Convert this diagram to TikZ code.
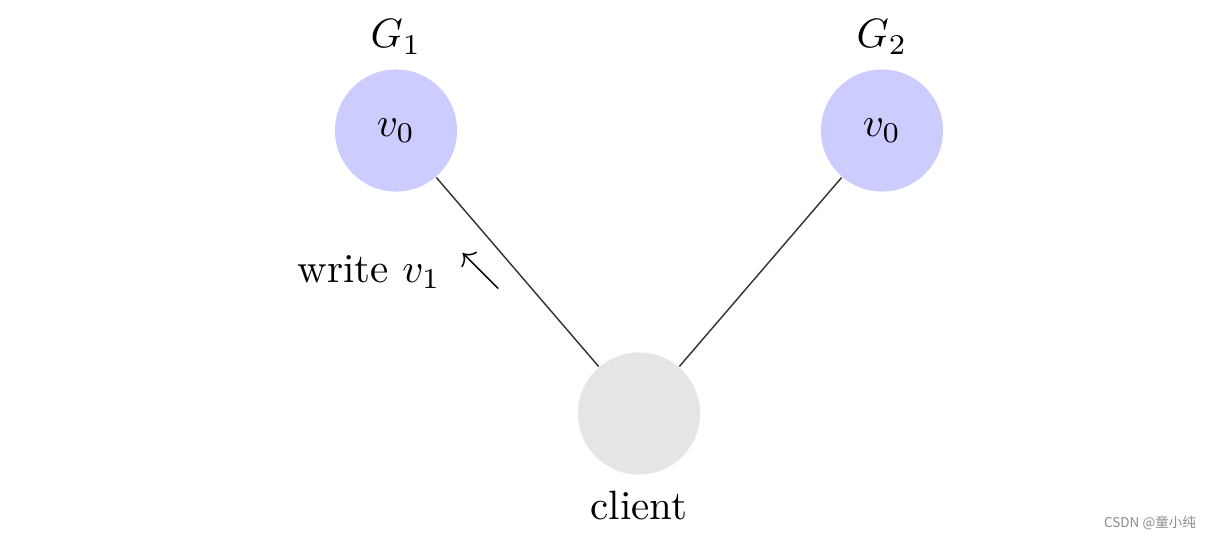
\documentclass[tikz,border=0pt]{standalone}
\usepackage{fontspec}
\newfontfamily\cjkfont{Noto Sans CJK SC}
\begin{document}
\begin{tikzpicture}[x=0.244pt,y=-0.244pt,
  server/.style={circle,fill=blue!20,minimum size=29.8pt,inner sep=0pt},
  clientnode/.style={circle,fill=black!10,minimum size=29.8pt,inner sep=0pt},
  link/.style={draw=black!80,line width=0.35pt}]
\useasboundingbox (0,0) rectangle (1215,540);
\node[server] (g1) at (396,130.5) {$v_0$};
\node[server] (g2) at (882,130.5) {$v_0$};
\node[clientnode] (c) at (639,413.5) {};
\node (g1l) at (396,37) {$G_1$};
\node (g2l) at (882,37) {$G_2$};
\node (cl) at (639,506) {client};
\node (wl) at (369,272) {write $v_1$};
\node[inner sep=0pt] (arr) at (480.5,271.5) {$\nwarrow$};
\draw[link] (g1) -- (c);
\draw[link] (g2) -- (c);
\node[text=black!45,font=\cjkfont\fontsize{3.3pt}{4pt}\selectfont] (wm) at (1150,523) {CSDN @童小纯};
\end{tikzpicture}
\end{document}
